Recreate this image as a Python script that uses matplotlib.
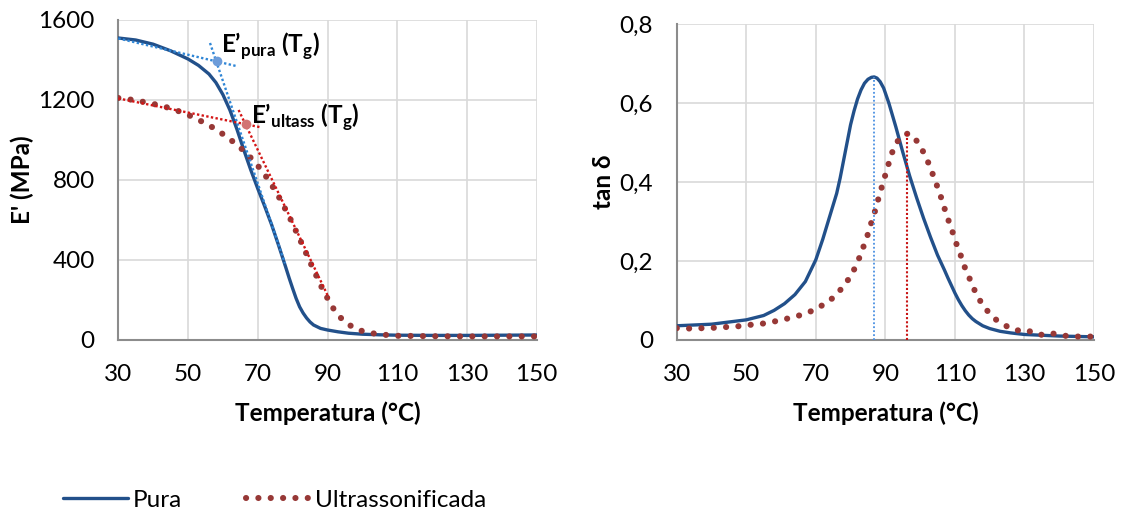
import matplotlib
matplotlib.use("Agg")
import matplotlib.pyplot as plt
from matplotlib.lines import Line2D
from matplotlib.ticker import FuncFormatter

plt.rcParams['font.family'] = ['Lato', 'DejaVu Sans']
plt.rcParams['mathtext.fontset'] = 'custom'
plt.rcParams['mathtext.rm'] = 'Lato'
plt.rcParams['mathtext.bf'] = 'Lato:bold'

# ---- storage modulus E' (MPa) vs temperature (°C) ----
temp_e_pura = [30, 35, 40, 45, 50, 53, 56, 58, 60, 62, 64, 66, 68, 70, 72, 74, 76, 78,
               79, 80, 81, 82, 83, 84, 85, 86, 88, 90, 93, 96, 100, 105, 110, 120, 130,
               140, 150]
e_pura = [1510, 1500, 1479, 1446, 1405, 1373, 1330, 1287, 1227, 1150, 1055, 950, 850,
          757, 668, 575, 472, 365, 310, 258, 208, 166, 135, 110, 90, 75, 58, 50, 41, 34,
          29, 26, 24, 23, 23, 24, 25]

temp_e_ultra = [30, 34, 38, 42, 46, 50, 54, 58, 61, 64, 67, 70, 73, 76, 79, 82, 85, 88,
                91, 93, 95, 98, 101, 105, 110, 120, 130, 140, 150]
e_ultra = [1210, 1201, 1188, 1173, 1153, 1126, 1092, 1054, 1017, 977, 930, 872, 803, 717,
           618, 506, 390, 275, 175, 125, 90, 56, 39, 28, 21, 19, 18, 18, 18]

# tangent constructions for Tg on the E' curves
tan_pura_flat_t, tan_pura_flat_e = [30, 63.8], [1508, 1370]
tan_pura_steep_t, tan_pura_steep_e = [56.3, 77.8], [1485, 383]
tg_pura_t, tg_pura_e = 58.2, 1397

tan_ultra_flat_t, tan_ultra_flat_e = [30, 71.0], [1208, 1063]
tan_ultra_steep_t, tan_ultra_steep_e = [64.5, 90.4], [1150, 210]
tg_ultra_t, tg_ultra_e = 66.7, 1080

# ---- loss tangent tan δ vs temperature (°C) ----
temp_d_pura = [30, 40, 50, 55, 58, 61, 64, 67, 70, 72, 74, 76, 77, 78, 79, 80, 81, 82, 83,
               84, 85, 86, 86.8, 87.6, 88.5, 89.5, 91, 93, 95, 97, 99, 101, 103, 105, 106,
               107, 108, 109, 110, 111, 112, 113, 114, 115, 116, 118, 120, 123, 126, 130,
               135, 140, 150]
d_pura = [0.036, 0.040, 0.051, 0.062, 0.075, 0.092, 0.115, 0.148, 0.203, 0.255, 0.313,
          0.371, 0.410, 0.455, 0.500, 0.545, 0.580, 0.610, 0.633, 0.650, 0.660, 0.665,
          0.666, 0.663, 0.654, 0.638, 0.600, 0.540, 0.476, 0.415, 0.360, 0.308, 0.260,
          0.215, 0.196, 0.177, 0.157, 0.138, 0.119, 0.102, 0.087, 0.074, 0.063, 0.054,
          0.047, 0.036, 0.029, 0.022, 0.018, 0.014, 0.012, 0.010, 0.008]

temp_d_ultra = [30, 34, 37.5, 41, 44.5, 48, 51.7, 55.2, 58.7, 62.2, 65.6, 69, 72.1, 75,
                77.4, 79.6, 81.3, 82.7, 83.9, 85.1, 86.1, 87.2, 88.1, 89.1, 90.1, 91.1,
                92.2, 93.9, 95.3, 96.6, 97.9, 99.2, 101, 102.5, 103.7, 105, 106.1, 107.2,
                108.3, 109.5, 110.6, 111.9, 113, 114.5, 115.9, 117.6, 119.5, 121.9, 124.5,
                126.3, 129.1, 130.9, 133.2, 135.8, 137.9, 140.9, 143.4, 146.5, 150]
d_ultra = [0.030, 0.029, 0.030, 0.031, 0.033, 0.035, 0.039, 0.042, 0.048, 0.055, 0.063,
           0.074, 0.089, 0.107, 0.130, 0.156, 0.183, 0.212, 0.241, 0.271, 0.301, 0.331,
           0.361, 0.391, 0.421, 0.451, 0.481, 0.509, 0.519, 0.523, 0.516, 0.502, 0.475,
           0.446, 0.418, 0.387, 0.359, 0.328, 0.299, 0.269, 0.239, 0.209, 0.180, 0.150,
           0.121, 0.094, 0.072, 0.051, 0.037, 0.027, 0.023, 0.025, 0.014, 0.013, 0.017,
           0.011, 0.010, 0.008, 0.009]

peak_pura_t, peak_pura_d = 86.8, 0.666
peak_ultra_t, peak_ultra_d = 96.1, 0.523

x_ticks = [30, 50, 70, 90, 110, 130, 150]
e_ticks = [0, 400, 800, 1200, 1600]
d_ticks = [0, 0.2, 0.4, 0.6, 0.8]

series_labels = ['Pura', 'Ultrassonificada']

# ---- styles ----
C_PURA = '#22508A'
C_ULTRA = '#973836'
C_TAN_BLUE = '#2F86D6'
C_TAN_RED = '#D41515'
GRID = '#D9D9D9'
SPINE = '#8C8C8C'
FS = 17.5

pura_kw = dict(color=C_PURA, lw=2.4, solid_capstyle='round', zorder=3)
ultra_kw = dict(color=C_ULTRA, lw=4.4, linestyle=(0, (0.02, 2.0)),
                dash_capstyle='round', zorder=4)

W, H = 1121, 513
fig = plt.figure(figsize=(W / 100, H / 100), dpi=100)

ax1 = fig.add_axes([118.3 / W, 1 - 340 / H, 418.4 / W, 320 / H])
ax2 = fig.add_axes([676.7 / W, 1 - 340 / H, 417.3 / W, 316 / H])


def style_axes(ax):
    ax.grid(True, color=GRID, lw=1.2, zorder=0)
    ax.set_axisbelow(True)
    for s in ('top', 'right'):
        ax.spines[s].set_visible(False)
    for s in ('left', 'bottom'):
        ax.spines[s].set_color(SPINE)
        ax.spines[s].set_linewidth(1.5)
    ax.tick_params(length=0, pad=17, labelsize=FS, colors='#000000')
    ax.set_xlim(30, 150)
    ax.set_xticks(x_ticks)
    ax.set_xlabel('Temperatura (°C)', fontsize=FS, fontweight='bold', labelpad=12)


# left panel: E'
style_axes(ax1)
ax1.set_ylim(0, 1600)
ax1.set_yticks(e_ticks)
ax1.set_ylabel("E' (MPa)", fontsize=FS, fontweight='bold', labelpad=3)
ax1.plot(temp_e_pura, e_pura, **pura_kw)
ax1.plot(temp_e_ultra, e_ultra, **ultra_kw)

tan_kw = dict(lw=1.7, linestyle=(0, (1, 1)), zorder=5)
ax1.plot(tan_pura_flat_t, tan_pura_flat_e, color=C_TAN_BLUE, **tan_kw)
ax1.plot(tan_pura_steep_t, tan_pura_steep_e, color=C_TAN_BLUE, **tan_kw)
ax1.plot(tan_ultra_flat_t, tan_ultra_flat_e, color=C_TAN_RED, **tan_kw)
ax1.plot(tan_ultra_steep_t, tan_ultra_steep_e, color=C_TAN_RED, **tan_kw)
ax1.plot([tg_pura_t], [tg_pura_e], 'o', ms=7, color='#6D9CD9', mec='none', zorder=6)
ax1.plot([tg_ultra_t], [tg_ultra_e], 'o', ms=7, color='#D27474', mec='none', zorder=6)

ax1.text(59.5, 1468, r"E’$_{\mathbf{pura}}$ (T$_{\mathbf{g}}$)", fontsize=FS,
         fontweight='bold', va='center', ha='left', zorder=7)
ax1.text(68.1, 1113, r"E’$_{\mathbf{ultass}}$ (T$_{\mathbf{g}}$)", fontsize=FS,
         fontweight='bold', va='center', ha='left', zorder=7)

# right panel: tan δ
style_axes(ax2)
ax2.set_ylim(0, 0.8)
ax2.set_yticks(d_ticks)
ax2.yaxis.set_major_formatter(
    FuncFormatter(lambda v, p: '0' if abs(v) < 1e-9 else f'{v:.1f}'.replace('.', ',')))
ax2.set_ylabel('tan δ', fontsize=FS, fontweight='bold', labelpad=3)
ax2.plot(temp_d_pura, d_pura, **pura_kw)
ax2.plot(temp_d_ultra, d_ultra, **ultra_kw)
ax2.plot([peak_pura_t, peak_pura_t], [0, peak_pura_d], color='#4A90E2', lw=1.3,
         linestyle=(0, (1, 1.2)), zorder=5)
ax2.plot([peak_ultra_t, peak_ultra_t], [0, peak_ultra_d], color='#C81414', lw=1.5,
         linestyle=(0, (1, 1)), zorder=5)

# legend
handles = [Line2D([], [], **{k: v for k, v in pura_kw.items() if k != 'zorder'}),
           Line2D([], [], **{k: v for k, v in ultra_kw.items() if k != 'zorder'})]
fig.legend(handles, series_labels, loc='center', bbox_to_anchor=(275 / W, 1 - 500 / H),
           ncol=2, frameon=False, fontsize=FS, handlelength=2.67, handletextpad=0.2,
           columnspacing=2.6)

fig.savefig('out.png', dpi=100)
